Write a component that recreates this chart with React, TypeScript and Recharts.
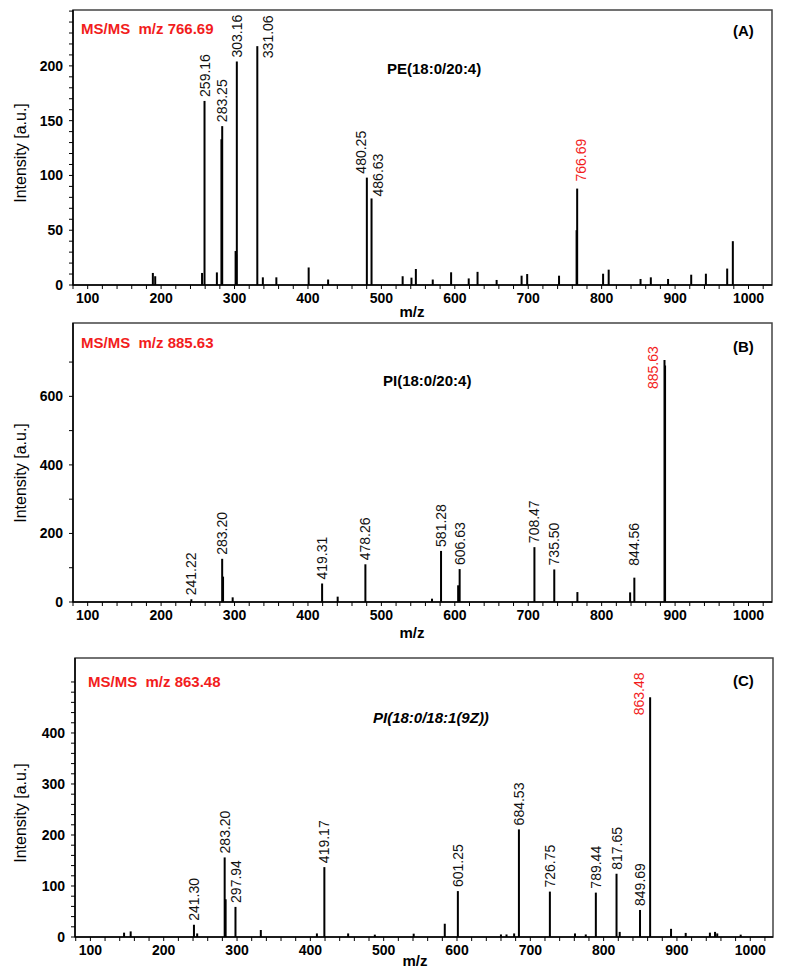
import React from "react";
import {
  ComposedChart,
  Bar,
  XAxis,
  YAxis,
  LabelList,
  ReferenceArea,
} from "recharts";

const FONT = '"Liberation Sans", Arial, Helvetica, sans-serif';
const RED = "#f21d1d";

// ---- panel A: PE(18:0/20:4), precursor 766.69 ----
const precursorA = "766.69";
const labeledA: [string, number][] = [
  ["259.16", 168], ["283.25", 145], ["303.16", 204], ["331.06", 218],
  ["480.25", 98], ["486.63", 79], ["766.69", 88],
];
const minorA: [number, number][] = [
  [188.8, 11], [192, 8], [255.8, 11], [276, 11.5], [282.2, 133], [301.5, 31],
  [302.3, 28], [338.6, 7], [357, 7], [401, 16], [427.5, 5], [529, 8], [541, 6.7],
  [547, 14.6], [570, 5], [595, 11.6], [619, 6], [631, 12], [657, 4.6], [691, 8.5],
  [698.6, 10], [742, 8.5], [765.9, 50], [802, 10.3], [809.6, 14], [853, 5.5],
  [867, 7], [890.5, 5.5], [922, 9.4], [942, 10.3], [971, 15], [978.7, 40],
];

// ---- panel B: PI(18:0/20:4), precursor 885.63 ----
const precursorB = "885.63";
const labeledB: [string, number][] = [
  ["241.22", 8], ["283.20", 126], ["419.31", 54], ["478.26", 110],
  ["581.28", 149], ["606.63", 96], ["708.47", 160], ["735.50", 95],
  ["844.56", 71], ["885.63", 706],
];
const minorB: [number, number][] = [
  [284.4, 74], [297.5, 13.6], [440.5, 15.6], [569, 9.7], [604.6, 48.7],
  [767, 29], [838.8, 28], [886.4, 690],
];

// ---- panel C: PI(18:0/18:1(9Z)), precursor 863.48 ----
const precursorC = "863.48";
const labeledC: [string, number][] = [
  ["241.30", 24], ["283.20", 156], ["297.94", 59], ["419.17", 137],
  ["601.25", 90], ["684.53", 211], ["726.75", 89], ["789.44", 87],
  ["817.65", 124], ["849.69", 53], ["863.48", 470],
];
const minorC: [number, number][] = [
  [146, 8.5], [155, 11], [245.7, 7], [284.5, 74], [332.5, 13.7], [409, 7],
  [451.6, 7], [488, 4.6], [541, 6.5], [583.4, 26], [660, 5], [667.6, 5],
  [678, 7], [761, 7], [775.7, 5], [822, 10], [892, 16], [912, 8], [945, 8.5],
  [952, 10], [955, 7], [987, 4.6],
];

const range = (a: number, b: number, step: number) => {
  const out: number[] = [];
  for (let v = a; v <= b + 1e-9; v += step) out.push(v);
  return out;
};

const xTicks = range(80, 1020, 20);

// nudges for peak labels that sit beside their peak: [dx, dy] in px
const labelNudge: Record<string, [number, number]> = {
  "331.06": [11, 16],
  "480.25": [-6, 0],
  "486.63": [6, 2],
  "766.69": [4, -3],
  "844.56": [0, -8],
  "885.63": [-12, 33],
  "863.48": [-11, 22],
};

type Row = { mz: number; i: number; label?: string };

function buildRows(labeled: [string, number][], minor: [number, number][]): Row[] {
  const rows: Row[] = [
    ...labeled.map(([l, i]) => ({ mz: parseFloat(l), i, label: l })),
    ...minor.map(([mz, i]) => ({ mz, i })),
  ];
  return rows.sort((a, b) => a.mz - b.mz);
}

const precursors = [precursorA, precursorB, precursorC];

// spectrum stick: fixed 2px width centred on the bar's x position
function Stick(props: any) {
  const { x, y, width, height } = props;
  if (!height || height <= 0) return null;
  const cx = Number(x) + Number(width) / 2;
  return <rect x={cx - 1} y={y} width={2} height={height} fill="#000" />;
}

function PeakLabel(props: any) {
  const { x, y, width, value } = props;
  if (!value) return null;
  const [dx, dy] = labelNudge[value] || [0, 0];
  const cx = Number(x) + Number(width) / 2 + dx;
  const ty = Number(y) - 4 + dy;
  return (
    <text
      x={cx}
      y={ty}
      transform={`rotate(-90, ${cx}, ${ty})`}
      textAnchor="start"
      dy="0.36em"
      fontFamily={FONT}
      fontSize={14}
      fill={precursors.includes(value) ? RED : "#111"}
    >
      {value}
    </text>
  );
}

function XTick(props: any) {
  const { x, y, payload } = props;
  const v = payload.value;
  if (v % 100 !== 0) return null;
  return (
    <text x={x} y={y} dy="0.71em" textAnchor="middle" fontFamily={FONT} fontWeight="bold" fontSize={14} fill="#000">
      {v}
    </text>
  );
}

function makeYTick(major: number, labelMax: number) {
  return function YTick(props: any) {
    const { x, y, payload } = props;
    const v = payload.value;
    if (v % major !== 0 || v > labelMax) return null;
    return (
      <text x={x} y={y} dy="0.36em" textAnchor="end" fontFamily={FONT} fontWeight="bold" fontSize={14} fill="#000">
        {v}
      </text>
    );
  };
}

interface PanelProps {
  rows: Row[];
  top: number;
  height: number;
  margin: { top: number; right: number; bottom: number; left: number };
  xDomain: [number, number];
  yMax: number;
  yTicks: number[];
  yMajor: number;
  labelMax: number;
}

function Panel({ rows, top, height, margin, xDomain, yMax, yTicks, yMajor, labelMax }: PanelProps) {
  return (
    <div style={{ position: "absolute", left: 0, top, width: 787, height }}>
      <ComposedChart width={787} height={height} data={rows} margin={margin}>
        <XAxis
          dataKey="mz"
          type="number"
          domain={xDomain}
          ticks={xTicks}
          interval={0}
          allowDataOverflow
          height={30}
          tickSize={4}
          tickMargin={4}
          tick={<XTick />}
          axisLine={{ stroke: "#000", strokeWidth: 1.5 }}
          tickLine={{ stroke: "#000" }}
        />
        <YAxis
          type="number"
          domain={[0, yMax]}
          ticks={yTicks}
          interval={0}
          allowDataOverflow
          width={45}
          tickSize={4}
          tickMargin={6}
          tick={makeYTick(yMajor, labelMax)}
          axisLine={{ stroke: "#000", strokeWidth: 1.5 }}
          tickLine={{ stroke: "#000" }}
        />
        <ReferenceArea
          x1={xDomain[0]}
          x2={xDomain[1]}
          y1={0}
          y2={yMax}
          fill="none"
          stroke="#444"
          strokeWidth={1.5}
          ifOverflow="visible"
        />
        <Bar dataKey="i" barSize={2} fill="#000" shape={<Stick />} isAnimationActive={false}>
          <LabelList dataKey="label" content={<PeakLabel />} />
        </Bar>
      </ComposedChart>
    </div>
  );
}

const bold = { fontFamily: FONT, fontWeight: "bold" as const, fontSize: 15 };

export default function App() {
  const rowsA = buildRows(labeledA, minorA);
  const rowsB = buildRows(labeledB, minorB);
  const rowsC = buildRows(labeledC, minorC);

  return (
    <div style={{ position: "absolute", left: 0, top: 0, width: 787, height: 977, background: "#fff" }}>
      <Panel
        rows={rowsA}
        top={0}
        height={325}
        margin={{ top: 10, right: 15, bottom: 10, left: 28 }}
        xDomain={[80, 1032]}
        yMax={251}
        yTicks={range(0, 250, 10)}
        yMajor={50}
        labelMax={200}
      />
      <Panel
        rows={rowsB}
        top={313}
        height={330}
        margin={{ top: 10, right: 15, bottom: 11, left: 28 }}
        xDomain={[80, 1032]}
        yMax={814}
        yTicks={range(0, 700, 100)}
        yMajor={200}
        labelMax={600}
      />
      <Panel
        rows={rowsC}
        top={640}
        height={337}
        margin={{ top: 18, right: 14, bottom: 10, left: 30 }}
        xDomain={[79, 1031]}
        yMax={547}
        yTicks={range(0, 500, 20)}
        yMajor={100}
        labelMax={400}
      />
      <svg
        width={787}
        height={977}
        style={{ position: "absolute", left: 0, top: 0, pointerEvents: "none" }}
      >
        {/* panel A */}
        <text x={81} y={34} fill={RED} style={{ ...bold, whiteSpace: "pre" }}>{`MS/MS  m/z ${precursorA}`}</text>
        <text x={387} y={74} style={bold}>PE(18:0/20:4)</text>
        <text x={733} y={36} style={bold}>(A)</text>
        <text transform="translate(20,153) rotate(-90)" dy="0.36em" textAnchor="middle" fontFamily={FONT} fontSize={16}>
          Intensity [a.u.]
        </text>
        <text x={412} y={317} textAnchor="middle" style={bold}>m/z</text>

        {/* panel B */}
        <text x={81} y={348} fill={RED} style={{ ...bold, whiteSpace: "pre" }}>{`MS/MS  m/z ${precursorB}`}</text>
        <text x={383} y={386} style={bold}>PI(18:0/20:4)</text>
        <text x={733} y={352} style={bold}>(B)</text>
        <text transform="translate(20,473) rotate(-90)" dy="0.36em" textAnchor="middle" fontFamily={FONT} fontSize={16}>
          Intensity [a.u.]
        </text>
        <text x={412} y={638} textAnchor="middle" style={bold}>m/z</text>

        {/* panel C */}
        <text x={88} y={687} fill={RED} style={{ ...bold, whiteSpace: "pre" }}>{`MS/MS  m/z ${precursorC}`}</text>
        <text x={373} y={723} style={{ ...bold, fontStyle: "italic" }}>PI(18:0/18:1(9Z))</text>
        <text x={733} y={686} style={bold}>(C)</text>
        <text transform="translate(20,813) rotate(-90)" dy="0.36em" textAnchor="middle" fontFamily={FONT} fontSize={16}>
          Intensity [a.u.]
        </text>
        <text x={415} y={966} textAnchor="middle" style={bold}>m/z</text>
      </svg>
    </div>
  );
}
